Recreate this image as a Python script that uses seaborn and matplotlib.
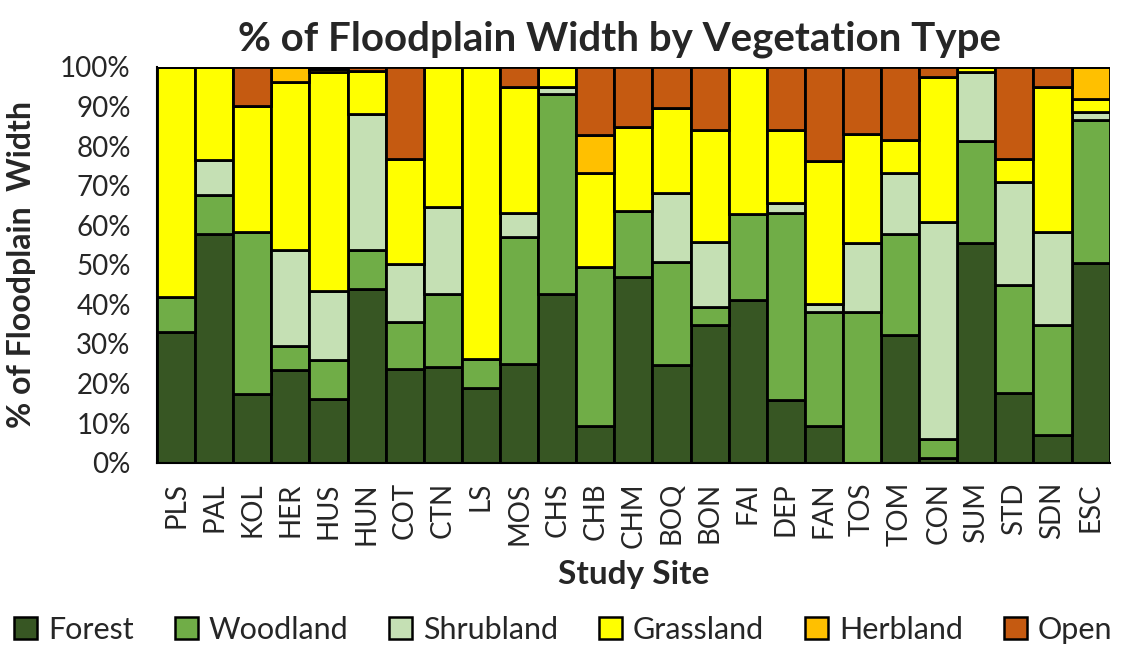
import numpy as np
import pandas as pd
import matplotlib.pyplot as plt
import seaborn as sns
from matplotlib.patches import Patch
from matplotlib.ticker import FuncFormatter

sites = ["PLS", "PAL", "KOL", "HER", "HUS", "HUN", "COT", "CTN", "LS", "MOS",
         "CHS", "CHB", "CHM", "BOQ", "BON", "FAI", "DEP", "FAN", "TOS", "TOM",
         "CON", "SUM", "STD", "SDN", "ESC"]

forest = [32.9, 57.8, 17.3, 23.5, 16.2, 43.9, 23.7, 24.2, 18.9, 25.0,
          42.5, 9.4, 46.9, 24.7, 34.8, 41.2, 15.9, 9.4, 0.0, 32.2,
          1.3, 55.5, 17.5, 6.9, 50.4]
woodland = [8.9, 9.9, 40.9, 6.0, 9.8, 9.9, 11.9, 18.5, 7.3, 32.0,
            50.7, 40.0, 16.8, 26.1, 4.5, 21.7, 47.1, 28.8, 38.2, 25.5,
            4.8, 25.7, 27.3, 27.9, 36.2]
shrubland = [0.0, 8.8, 0.0, 24.3, 17.5, 34.2, 14.7, 21.9, 0.0, 6.2,
             1.8, 0.0, 0.0, 17.3, 16.4, 0.0, 2.6, 1.9, 17.4, 15.4,
             54.8, 17.6, 26.0, 23.4, 2.0]
grassland = [58.2, 23.5, 31.9, 42.4, 55.3, 11.0, 26.5, 35.4, 73.8, 31.8,
             5.0, 23.7, 21.1, 21.6, 28.4, 37.1, 18.5, 36.0, 27.4, 8.3,
             36.5, 1.2, 6.0, 36.8, 3.2]
herbland = [0.0, 0.0, 0.0, 3.8, 0.7, 0.0, 0.0, 0.0, 0.0, 0.0,
            0.0, 9.8, 0.0, 0.0, 0.0, 0.0, 0.0, 0.0, 0.0, 0.0,
            0.0, 0.0, 0.0, 0.0, 8.2]
open_ = [0.0, 0.0, 9.9, 0.0, 0.5, 1.0, 23.2, 0.0, 0.0, 5.0,
         0.0, 17.1, 15.2, 10.3, 15.9, 0.0, 15.9, 23.9, 17.0, 18.6,
         2.6, 0.0, 23.2, 5.0, 0.0]

veg_types = ["Forest", "Woodland", "Shrubland", "Grassland", "Herbland", "Open"]
colors = ["#375623", "#70AD47", "#C5E0B4", "#FFFF00", "#FFC000", "#C55A11"]

df = pd.DataFrame({"Site": sites, "Forest": forest, "Woodland": woodland,
                   "Shrubland": shrubland, "Grassland": grassland,
                   "Herbland": herbland, "Open": open_})

sns.set_style("white")
plt.rcParams["font.family"] = ["Lato", "DejaVu Sans"]

fig, ax = plt.subplots(figsize=(11.22, 6.49), dpi=100)
fig.subplots_adjust(left=0.140, right=0.989, top=0.897, bottom=0.287)

# stack each vegetation type on top of the previous ones
bottom = np.zeros(len(sites))
for veg, col in zip(veg_types, colors):
    sns.barplot(data=df, x="Site", y=veg, color=col, width=1.0,
                bottom=bottom, edgecolor="black", linewidth=2.0,
                saturation=1, ax=ax)
    bottom = bottom + df[veg].to_numpy()

ax.set_ylim(0, 100)
ax.set_xlim(-0.5, len(sites) - 0.5)
ax.set_yticks(np.arange(0, 101, 10))
ax.yaxis.set_major_formatter(FuncFormatter(lambda v, _: f"{v:.0f}%"))
ax.set_xticks(np.arange(len(sites)))
ax.set_xticklabels(sites, rotation=90)
ax.set_xticks(np.arange(len(sites) + 1) - 0.5, minor=True)
ax.tick_params(axis="x", which="major", length=0, labelsize=20, pad=14)
ax.tick_params(axis="x", which="minor", length=8, width=1.5, color="black",
               direction="inout")
ax.tick_params(axis="y", length=7, width=1.5, color="black", labelsize=20,
               pad=12)

for s in ["top", "right"]:
    ax.spines[s].set_visible(False)
for s in ["left", "bottom"]:
    ax.spines[s].set_color("black")
    ax.spines[s].set_linewidth(1.5)

ax.set_title("% of Floodplain Width by Vegetation Type", fontsize=29,
             fontweight="bold", pad=12, x=0.485)
ax.set_ylabel("% of Floodplain  Width", fontsize=23, fontweight="bold")
ax.yaxis.set_label_coords(-0.127, 0.5)
ax.set_xlabel("Study Site", fontsize=24, fontweight="bold")
ax.xaxis.set_label_coords(0.5, -0.245)

handles = [Patch(facecolor=c, edgecolor="black", linewidth=1.8, label=v)
           for v, c in zip(veg_types, colors)]
fig.legend(handles=handles, loc="center", bbox_to_anchor=(0.502, 0.03),
           ncol=6, frameon=False, fontsize=22, handlelength=0.75,
           handleheight=0.75, handletextpad=0.35, columnspacing=1.35,
           borderaxespad=0)

fig.savefig("out.png", dpi=100)
